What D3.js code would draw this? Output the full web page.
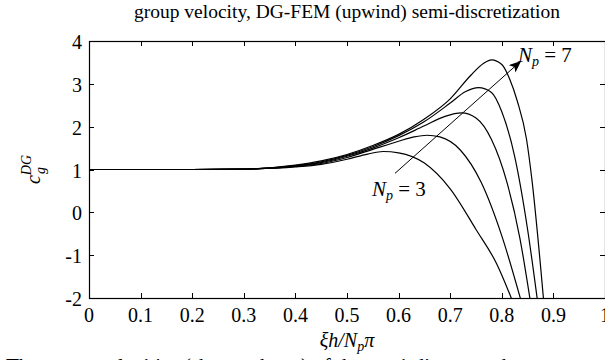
<!DOCTYPE html>
<html>
<head>
<meta charset="utf-8">
<script src="https://cdn.jsdelivr.net/npm/d3@7"></script>
<style>
  body { margin: 0; background: white; overflow: hidden; }
  svg { display: block; font-family: 'Liberation Serif', serif; }
</style>
</head>
<body>
<script>
// group velocity curves, one per Np
var npLabels = [3, 4, 5, 6, 7];
var xTicks = [0, 0.1, 0.2, 0.3, 0.4, 0.5, 0.6, 0.7, 0.8, 0.9, 1];
var xTickLabels = ['0', '0.1', '0.2', '0.3', '0.4', '0.5', '0.6', '0.7', '0.8', '0.9', '1'];
var yTicks = [-2, -1, 0, 1, 2, 3, 4];
var yTickLabels = ['-2', '-1', '0', '1', '2', '3', '4'];

var cgNp3 = [[0,1],[0.1,1],[0.2,1],[0.3,1.01],[0.4,1.06],[0.45,1.12],[0.5,1.24],[0.54,1.36],[0.57,1.42],[0.6,1.39],[0.65,1.15],[0.7,0.55],[0.75,-0.4],[0.79,-1.2],[0.82,-2.05]];
var cgNp4 = [[0,1],[0.1,1],[0.2,1],[0.3,1.01],[0.4,1.07],[0.45,1.14],[0.5,1.28],[0.55,1.47],[0.6,1.66],[0.63,1.76],[0.655,1.8],[0.68,1.76],[0.72,1.45],[0.76,0.7],[0.8,-0.55],[0.837,-2.05]];
var cgNp5 = [[0,1],[0.1,1],[0.2,1],[0.3,1.01],[0.4,1.08],[0.45,1.16],[0.5,1.31],[0.55,1.5],[0.6,1.74],[0.65,2.02],[0.69,2.24],[0.722,2.32],[0.75,2.2],[0.78,1.7],[0.81,0.7],[0.835,-0.6],[0.855,-2.05]];
var cgNp6 = [[0,1],[0.1,1],[0.2,1],[0.3,1.01],[0.4,1.09],[0.45,1.18],[0.5,1.33],[0.55,1.53],[0.6,1.79],[0.65,2.12],[0.7,2.55],[0.73,2.82],[0.755,2.91],[0.78,2.8],[0.8,2.35],[0.825,1.3],[0.85,-0.4],[0.869,-2.05]];
var cgNp7 = [[0,1],[0.1,1],[0.2,1],[0.3,1.01],[0.4,1.1],[0.45,1.2],[0.5,1.35],[0.55,1.56],[0.6,1.82],[0.65,2.18],[0.7,2.65],[0.74,3.2],[0.765,3.48],[0.78,3.56],[0.8,3.45],[0.815,3.12],[0.83,2.6],[0.848,1.7],[0.858,0.8],[0.881,-2.05]];
var curves = [cgNp3, cgNp4, cgNp5, cgNp6, cgNp7];

// arrow from the Np = 3 label to the Np = 7 label (data coords)
var arrowFrom = [0.593, 0.91];
var arrowTo = [0.836, 3.52];

var width = 605, height = 360;
var margins = { left: 89, right: 0, top: 41, bottom: 62 };

var svg = d3.select('body').append('svg')
    .attr('width', width).attr('height', height);

var x = d3.scaleLinear()
    .domain([0, 1])
    .range([margins.left, width - margins.right]);
var y = d3.scaleLinear()
    .domain([-2, 4])
    .range([height - margins.bottom, margins.top]);

svg.append('defs').append('clipPath').attr('id', 'plotClip')
    .append('rect')
    .attr('x', x(0)).attr('y', y(4))
    .attr('width', x(1) - x(0)).attr('height', y(-2) - y(4));

svg.append('defs').append('marker')
    .attr('id', 'arrowHead')
    .attr('viewBox', '0 0 12 10')
    .attr('refX', 11).attr('refY', 5)
    .attr('markerWidth', 12).attr('markerHeight', 10)
    .attr('markerUnits', 'userSpaceOnUse')
    .attr('orient', 'auto')
    .append('path')
    .attr('d', 'M0,0 L12,5 L0,10 L3,5 Z')
    .style('fill', 'black');

// title
svg.append('text')
    .attr('x', (x(0) + x(1)) / 2).attr('y', 18)
    .style('text-anchor', 'middle')
    .style('font-size', '19.5px')
    .text('group velocity, DG-FEM (upwind) semi-discretization');

// ticks (inward, on all four sides)
var tickLen = 5;
var grid = svg.append('g').attr('class', 'ticks')
    .style('stroke', 'black').style('stroke-width', 1);
xTicks.slice(1, -1).forEach(function(t) {
    var px = Math.round(x(t)) + 0.5;
    grid.append('line').attr('x1', px).attr('x2', px)
        .attr('y1', y(-2)).attr('y2', y(-2) - tickLen);
    grid.append('line').attr('x1', px).attr('x2', px)
        .attr('y1', y(4)).attr('y2', y(4) + tickLen);
});
yTicks.slice(1, -1).forEach(function(t) {
    var py = Math.round(y(t)) + 0.5;
    grid.append('line').attr('x1', x(0)).attr('x2', x(0) + tickLen)
        .attr('y1', py).attr('y2', py);
    grid.append('line').attr('x1', x(1)).attr('x2', x(1) - tickLen)
        .attr('y1', py).attr('y2', py);
});

// tick labels
svg.selectAll('.xlabel').data(xTicks)
    .enter().append('text')
    .attr('class', 'xlabel')
    .attr('x', function(d) { return x(d); })
    .attr('y', y(-2) + 24)
    .style('text-anchor', 'middle')
    .style('font-size', '20px')
    .text(function(d, i) { return xTickLabels[i]; });

svg.selectAll('.ylabel').data(yTicks)
    .enter().append('text')
    .attr('class', 'ylabel')
    .attr('x', x(0) - 7)
    .attr('y', function(d) { return y(d) + 8; })
    .style('text-anchor', 'end')
    .style('font-size', '20px')
    .text(function(d, i) { return yTickLabels[i]; });

// curves
var line = d3.line()
    .x(function(d) { return x(d[0]); })
    .y(function(d) { return y(d[1]); })
    .curve(d3.curveMonotoneX);

svg.append('g').attr('clip-path', 'url(#plotClip)')
    .selectAll('.curve').data(curves)
    .enter().append('path')
    .attr('class', 'curve')
    .attr('d', line)
    .attr('data-np', function(d, i) { return npLabels[i]; })
    .style('fill', 'none')
    .style('stroke', 'black')
    .style('stroke-width', 1.2);

// box
svg.append('rect')
    .attr('x', x(0) + 0.5).attr('y', y(4) + 0.5)
    .attr('width', x(1) - x(0)).attr('height', y(-2) - y(4))
    .style('fill', 'none').style('stroke', 'black').style('stroke-width', 1.2);

// arrow and labels
svg.append('line')
    .attr('x1', x(arrowFrom[0])).attr('y1', y(arrowFrom[1]))
    .attr('x2', x(arrowTo[0])).attr('y2', y(arrowTo[1]))
    .style('stroke', 'black').style('stroke-width', 1)
    .attr('marker-end', 'url(#arrowHead)');

var npLabel = function(px, py, n) {
    var t = svg.append('text')
        .attr('x', px).attr('y', py)
        .style('font-size', '21px');
    t.append('tspan').style('font-style', 'italic').text('N');
    t.append('tspan').style('font-style', 'italic').style('font-size', '14px')
        .attr('dy', 4).text('p');
    t.append('tspan').attr('dy', -4).text(' = ' + n);
};
npLabel(372, 196, npLabels[0]);
npLabel(518, 62, npLabels[npLabels.length - 1]);

// axis titles
var xt = svg.append('text')
    .attr('x', (x(0) + x(1)) / 2).attr('y', 347)
    .style('text-anchor', 'middle')
    .style('font-size', '20px')
    .style('font-style', 'italic');
xt.append('tspan').text('\u03BEh/N');
xt.append('tspan').attr('dy', 4).style('font-size', '14px').text('p');
xt.append('tspan').attr('dy', -4).text('\u03C0');

var yt = svg.append('text')
    .attr('transform', 'translate(40,' + ((y(4) + y(-2)) / 2) + ') rotate(-90)')
    .style('text-anchor', 'middle')
    .style('font-size', '20px')
    .style('font-style', 'italic');
yt.append('tspan').text('c');
yt.append('tspan').attr('dy', -9).style('font-size', '14px').text('DG');
yt.append('tspan').attr('dx', -19).attr('dy', 14).style('font-size', '14px').text('g');

// start of the caption text below the figure (mostly cut off)
svg.append('text')
    .attr('x', 6).attr('y', 373)
    .style('font-size', '21px')
    .text('The group velocities (shown above) of the semi-discrete scheme are');
</script>
</body>
</html>
